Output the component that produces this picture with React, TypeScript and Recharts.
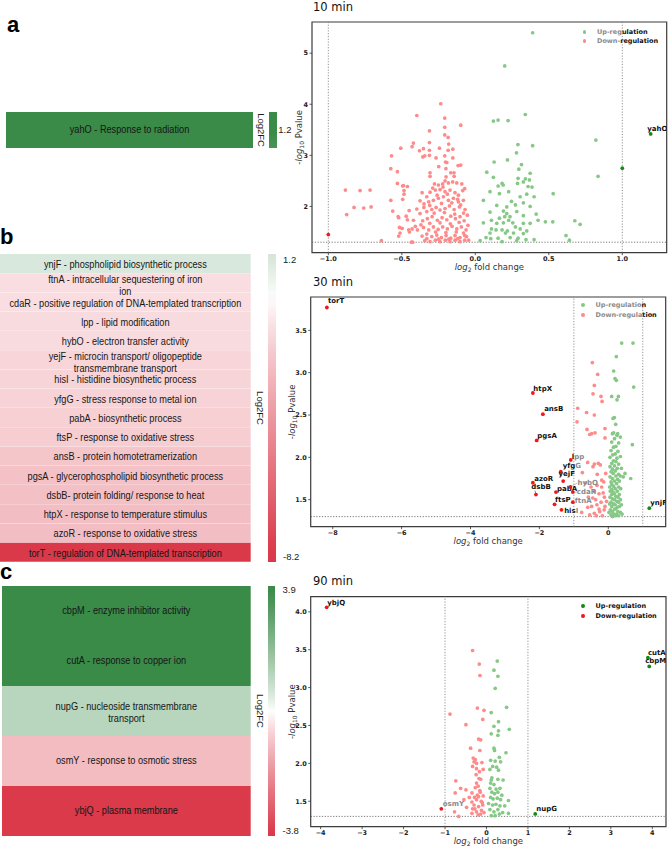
import React from 'react';
import {
  Bar,
  BarChart,
  Cell,
  LabelList,
  Legend,
  ReferenceArea,
  ReferenceLine,
  Scatter,
  ScatterChart,
  XAxis,
  YAxis,
} from 'recharts';

const NARROW = "'Liberation Sans Narrow', 'Liberation Sans', Arial, sans-serif";
const DEJAVU = "'DejaVu Sans', sans-serif";

// ---------- heatmap data (log2FC per gene) ----------
const genesA = ['yahO'];
const fcA = [1.2];
const termsA = [['yahO - Response to radiation']];
const cbTicksA = [1.2];

const genesB = ['ynjF', 'ftnA', 'cdaR', 'lpp', 'hybO', 'yejF', 'hisI', 'yfgG', 'pabA', 'ftsP', 'ansB', 'pgsA', 'dsbB', 'htpX', 'azoR', 'torT'];
const fcB = [1.19, -1.03, -1.03, -1.09, -1.1, -1.31, -1.36, -1.38, -1.52, -1.56, -1.9, -2.08, -2.1, -2.19, -2.19, -8.17];
const termsB = [
  ['ynjF - phospholipid biosynthetic process'],
  ['ftnA - intracellular sequestering of iron', 'ion'],
  ['cdaR - positive regulation of DNA-templated transcription'],
  ['lpp - lipid modification'],
  ['hybO - electron transfer activity'],
  ['yejF - microcin transport/ oligopeptide', 'transmembrane transport'],
  ['hisI - histidine biosynthetic process'],
  ['yfgG - stress response to metal ion'],
  ['pabA - biosynthetic process'],
  ['ftsP - response to oxidative stress'],
  ['ansB - protein homotetramerization'],
  ['pgsA - glycerophospholipid biosynthetic process'],
  ['dsbB- protein folding/ response to heat'],
  ['htpX - response to temperature stimulus'],
  ['azoR - response to oxidative stress'],
  ['torT - regulation of DNA-templated transcription'],
];
const cbTicksB = [1.2, -8.2];

const genesC = ['cbpM', 'cutA', 'nupG', 'osmY', 'ybjQ'];
const fcC = [3.93, 3.89, 1.18, -1.09, -3.86];
const termsC = [
  ['cbpM - enzyme inhibitor activity'],
  ['cutA - response to copper ion'],
  ['nupG - nucleoside transmembrane', 'transport'],
  ['osmY - response to osmotic stress'],
  ['ybjQ - plasma membrane'],
];
const cbTicksC = [3.9, -3.8];

// ---------- volcano data: [log2FC, -log10 p] ----------
const downA = [
  [-0.235, 4.01], [-0.398, 3.78], [-0.208, 3.73], [-0.099, 3.59], [-0.208, 3.55], [-0.312, 3.48], [-0.208, 3.4], [-0.185, 3.35],
  [-0.421, 3.24], [-0.312, 3.25], [-0.181, 3.22], [-0.507, 3.14], [-0.43, 3.17], [-0.353, 3.13], [-0.244, 3.14], [-0.153, 3.12],
  [-0.38, 3.09], [-0.312, 3.1], [-0.185, 3.1], [-0.57, 2.99], [-0.357, 2.97], [-0.344, 2.99], [-0.312, 3.0], [-0.267, 2.95],
  [-0.208, 2.99], [-0.153, 2.95], [-0.203, 2.87], [-0.194, 2.86], [-0.249, 2.78], [-0.117, 2.8], [-0.099, 2.81], [-0.575, 2.74],
  [-0.53, 2.68], [-0.308, 2.66], [-0.2, 2.74], [-0.167, 2.66], [-0.145, 2.66],
  [-0.884, 2.32], [-0.784, 2.31], [-0.716, 2.32], [-0.825, 1.98], [-0.759, 1.97], [-0.709, 1.99], [-0.875, 1.84], [-0.639, 1.33], [-1.0, 1.45],
  [-0.308, 2.59], [-0.199, 2.58], [-0.144, 2.59], [-0.206, 2.5], [-0.53, 2.45], [-0.494, 2.4], [-0.462, 2.39], [-0.278, 2.44],
  [-0.251, 2.42], [-0.222, 2.44], [-0.183, 2.46], [-0.154, 2.48], [-0.126, 2.46], [-0.092, 2.44], [-0.072, 2.35], [-0.485, 2.31],
  [-0.575, 2.12], [-0.494, 2.14], [-0.562, 1.91], [-0.521, 1.78], [-0.462, 1.74], [-0.498, 1.57], [-0.521, 1.42], [-0.448, 1.5],
  [-0.426, 1.3], [-0.421, 1.73], [-0.408, 1.61], [-0.398, 1.95], [-0.376, 2.11], [-0.362, 2.27], [-0.33, 2.19], [-0.308, 2.28],
  [-0.272, 2.32], [-0.24, 2.33], [-0.206, 2.29], [-0.172, 2.32], [-0.138, 2.27], [-0.115, 2.22], [-0.086, 2.31], [-0.349, 2.05],
  [-0.317, 2.09], [-0.285, 2.12], [-0.251, 2.16], [-0.217, 2.19], [-0.183, 2.12], [-0.149, 2.16], [-0.115, 2.09], [-0.081, 2.12],
  [-0.376, 1.86], [-0.33, 1.9], [-0.296, 1.94], [-0.267, 1.98], [-0.24, 1.93], [-0.206, 1.96], [-0.176, 2.01], [-0.144, 1.94],
  [-0.108, 1.99], [-0.07, 1.94], [-0.358, 1.72], [-0.326, 1.76], [-0.294, 1.8], [-0.258, 1.73], [-0.226, 1.78], [-0.194, 1.74],
  [-0.167, 1.81], [-0.135, 1.76], [-0.104, 1.8], [-0.076, 1.72], [-0.054, 1.83], [-0.394, 1.54], [-0.353, 1.59], [-0.317, 1.54],
  [-0.285, 1.6], [-0.253, 1.55], [-0.222, 1.6], [-0.19, 1.56], [-0.158, 1.61], [-0.126, 1.56], [-0.095, 1.6], [-0.063, 1.54],
  [-0.362, 1.42], [-0.33, 1.46], [-0.296, 1.41], [-0.262, 1.44], [-0.231, 1.39], [-0.199, 1.43], [-0.167, 1.38], [-0.138, 1.43],
  [-0.104, 1.39], [-0.072, 1.43], [-0.045, 1.34], [-0.344, 1.33], [-0.308, 1.31], [-0.272, 1.34], [-0.24, 1.31], [-0.204, 1.34],
  [-0.172, 1.31], [-0.138, 1.34], [-0.104, 1.31], [-0.072, 1.34],
  [-0.29, 2.36], [-0.22, 2.38], [-0.26, 2.22], [-0.19, 2.24], [-0.12, 2.14], [-0.31, 2.02], [-0.23, 2.06], [-0.16, 2.07],
  [-0.1, 2.03], [-0.28, 1.87], [-0.21, 1.88], [-0.14, 1.85], [-0.08, 1.87], [-0.31, 1.67], [-0.24, 1.68], [-0.17, 1.66],
  [-0.11, 1.69], [-0.27, 1.5], [-0.2, 1.49], [-0.13, 1.5], [-0.08, 1.48], [-0.05, 1.63], [-0.33, 1.37], [-0.25, 1.36],
  [-0.18, 1.36], [-0.12, 1.37], [-0.06, 1.41], [-0.43, 1.56], [-0.37, 1.64], [-0.45, 1.92], [-0.35, 1.98], [-0.47, 1.81],
  [-0.489, 2.41], [-0.485, 2.24], [-0.525, 1.8], [-0.516, 1.59], [-0.512, 1.48], [-0.453, 1.54], [-0.435, 1.3],
];
const upA = [
  [0.39, 5.4], [0.2, 4.75], [0.34, 3.8], [0.123, 3.67], [0.155, 3.69], [0.223, 3.68], [0.82, 3.3], [0.29, 3.21], [0.39, 3.19],
  [0.28, 3.05], [0.128, 2.87], [0.219, 2.91], [0.314, 2.82], [0.296, 2.73], [0.373, 2.65], [0.078, 2.67], [1.0, 2.75],
  [0.835, 2.59], [0.123, 2.57], [0.291, 2.55], [0.341, 2.54], [0.368, 2.52], [0.182, 2.45], [0.19, 2.42], [0.155, 2.4],
  [0.287, 2.45], [0.327, 2.48], [0.359, 2.39], [0.386, 2.38], [0.227, 2.29], [0.164, 2.25], [0.1, 2.29], [0.35, 2.24],
  [0.53, 2.25], [0.055, 2.12], [0.246, 2.1], [0.305, 2.19], [0.4, 2.19], [0.327, 2.07], [0.146, 2.02], [0.214, 1.99],
  [0.273, 2.03], [0.373, 2.0], [0.1, 1.89], [0.191, 1.91], [0.214, 1.86], [0.236, 1.8], [0.2, 1.8], [0.282, 1.9],
  [0.327, 1.82], [0.414, 1.85], [0.164, 1.77], [0.227, 1.73], [0.11, 1.73], [0.427, 1.73], [0.477, 1.7], [0.527, 1.7],
  [0.677, 1.72], [0.713, 1.65], [0.055, 1.68], [0.146, 1.67], [0.191, 1.68], [0.255, 1.68], [0.327, 1.67], [0.373, 1.67],
  [0.11, 1.56], [0.141, 1.54], [0.182, 1.54], [0.218, 1.52], [0.273, 1.6], [0.305, 1.56], [0.35, 1.52], [0.1, 1.48],
  [0.205, 1.48], [0.26, 1.48], [0.327, 1.47], [0.617, 1.43], [0.073, 1.39], [0.105, 1.37], [0.155, 1.38], [0.237, 1.39],
  [0.291, 1.38], [0.345, 1.35], [0.4, 1.35], [0.64, 1.34], [0.033, 1.33], [0.182, 1.31], [0.282, 1.33],
];
const sigA: [string, number, number][] = [['yahO', 1.193, 3.42]];

const downB = [
  [-0.463, 3.12], [-0.308, 2.98], [-0.405, 2.85], [-0.444, 2.75], [-0.212, 2.72], [-0.18, 2.66], [-0.889, 2.58], [-0.63, 2.53],
  [-0.405, 2.5], [-0.908, 2.42], [-0.618, 2.33], [-0.483, 2.28], [-0.386, 2.29], [-0.54, 2.27], [-0.096, 2.34], [-0.096, 2.23],
  [-0.599, 1.94], [-0.405, 1.92], [-0.289, 1.93], [-0.231, 1.91], [-0.444, 1.89], [-0.754, 1.82], [-0.076, 1.81], [-0.192, 1.73],
  [-0.134, 1.71], [-0.502, 1.65], [-0.328, 1.67], [-0.192, 1.65], [-0.27, 1.57], [-0.405, 1.6], [-0.579, 1.53], [-0.115, 1.53],
  [-0.366, 1.5], [-0.211, 1.47], [-0.483, 1.42], [-0.599, 1.41], [-0.096, 1.42], [-0.27, 1.39], [-0.405, 1.34], [-0.347, 1.31],
  [-0.54, 1.32], [-0.173, 1.31], [-0.773, 1.35], [-0.32, 1.8], [-0.15, 1.58], [-0.05, 1.48], [-0.33, 1.44], [-0.66, 1.7],
  [-0.25, 1.36], [-0.45, 1.52], [-0.12, 1.38],
];
const upB = [
  [0.388, 3.35], [0.717, 3.35], [0.233, 3.19], [0.156, 3.02], [0.195, 2.93], [0.233, 2.91], [0.737, 2.83], [0.098, 2.72],
  [0.292, 2.72], [0.253, 2.68], [0.175, 2.47], [0.137, 2.46], [0.214, 2.39], [0.156, 2.29], [0.272, 2.28], [0.35, 2.24],
  [0.698, 2.15], [0.485, 1.81], [0.65, 1.75], [0.435, 1.77],
  [0.12, 2.28], [0.25, 2.26], [0.18, 2.22], [0.1, 2.18], [0.3, 2.17], [0.15, 2.12], [0.22, 2.13], [0.08, 2.08], [0.28, 2.07],
  [0.2, 2.04], [0.13, 2.03], [0.05, 2.0], [0.25, 1.99], [0.35, 2.01], [0.15, 1.96], [0.22, 1.95], [0.1, 1.93], [0.3, 1.92],
  [0.18, 1.9], [0.05, 1.89], [0.26, 1.87], [0.12, 1.86], [0.38, 1.87], [0.2, 1.84], [0.08, 1.83], [0.14, 1.81], [0.3, 1.8],
  [0.22, 1.78], [0.05, 1.77], [0.35, 1.78], [0.12, 1.75], [0.27, 1.74], [0.18, 1.72], [0.08, 1.71], [0.32, 1.72], [0.24, 1.69],
  [0.1, 1.68], [0.15, 1.66], [0.3, 1.65], [0.04, 1.65], [0.2, 1.63], [0.1, 1.62], [0.36, 1.63], [0.26, 1.6], [0.14, 1.59],
  [0.06, 1.6], [0.18, 1.57], [0.32, 1.56], [0.1, 1.56], [0.22, 1.54], [0.05, 1.53], [0.28, 1.53], [0.12, 1.51], [0.35, 1.5],
  [0.18, 1.5], [0.25, 1.48], [0.08, 1.47], [0.3, 1.47], [0.15, 1.45], [0.2, 1.44], [0.04, 1.45], [0.38, 1.44], [0.1, 1.42],
  [0.26, 1.41], [0.32, 1.42], [0.18, 1.39], [0.06, 1.38], [0.22, 1.39], [0.12, 1.36], [0.28, 1.36], [0.35, 1.35], [0.02, 1.35],
  [0.16, 1.33], [0.24, 1.33], [0.08, 1.32], [0.4, 1.33], [0.2, 1.31], [0.12, 1.3], [0.3, 1.31],
];
const sigB: [string, number, number][] = [
  ['torT', -8.17, 3.77], ['htpX', -2.19, 2.76], ['ansB', -1.9, 2.51], ['pgsA', -2.08, 2.2], ['lpp', -1.09, 1.97],
  ['yfgG', -1.38, 1.83], ['yejF', -1.31, 1.72], ['azoR', -2.19, 1.7], ['dsbB', -2.1, 1.56], ['pabA', -1.52, 1.59],
  ['ftsP', -1.56, 1.445], ['hisI', -1.36, 1.38], ['hybO', -1.1, 1.65], ['cdaR', -1.03, 1.59], ['ftnA', -1.03, 1.47],
  ['ynjF', 1.19, 1.4],
];

const downC = [
  [-0.335, 3.49], [-0.174, 3.31], [-0.158, 3.16], [-0.22, 2.73], [-0.06, 2.7], [-0.88, 2.65], [-0.09, 2.58], [-0.496, 2.51],
  [-0.19, 2.32], [-0.14, 2.31], [-0.383, 2.2], [-0.16, 2.17], [-0.32, 2.07], [-0.27, 2.05], [-0.3, 2.02], [-0.24, 2.0],
  [-0.11, 2.01], [-0.335, 1.96], [-0.24, 1.93], [-0.17, 1.89], [-0.08, 1.92], [-0.74, 1.77], [-0.14, 1.79], [-0.624, 1.67],
  [-0.24, 1.74], [-0.27, 1.68], [-0.496, 1.65], [-0.755, 1.61], [-0.35, 1.61], [-0.16, 1.64], [-0.415, 1.55], [-0.287, 1.55],
  [-0.19, 1.56], [-0.08, 1.57], [-0.544, 1.52], [-0.35, 1.49], [-0.24, 1.52], [-0.126, 1.5], [-0.48, 1.42], [-0.3, 1.45],
  [-0.19, 1.43], [-0.09, 1.45], [-0.77, 1.36], [-0.35, 1.34], [-0.24, 1.36], [-0.14, 1.33], [-0.06, 1.35], [-0.335, 1.4],
  [-0.67, 1.3], [-0.2, 1.7], [-0.15, 1.62], [-0.22, 1.58], [-0.1, 1.48], [-0.28, 1.4], [-0.2, 1.32], [-0.12, 1.38],
  [-0.25, 1.85], [-0.18, 1.8],
];
const upC = [
  [0.26, 3.35], [0.18, 3.23], [0.276, 3.15], [0.21, 2.99], [0.485, 2.74], [0.115, 2.67], [0.29, 2.55], [0.18, 2.49],
  [0.55, 2.45], [0.29, 2.43], [0.115, 2.39], [0.275, 2.37], [0.18, 2.2], [0.195, 2.17], [0.47, 2.14], [0.1, 2.04],
  [0.31, 2.08], [0.21, 2.03], [0.34, 2.02], [0.15, 1.96], [0.245, 1.95], [0.083, 1.92], [0.29, 1.91], [0.13, 1.81],
  [0.115, 1.78], [0.275, 1.79], [0.4, 1.78], [0.1, 1.74], [0.18, 1.72], [0.083, 1.67], [0.23, 1.66], [0.325, 1.67],
  [0.13, 1.62], [0.195, 1.6], [0.275, 1.62], [0.37, 1.58], [0.1, 1.55], [0.16, 1.53], [0.26, 1.54], [0.34, 1.52],
  [0.53, 1.51], [0.05, 1.47], [0.147, 1.45], [0.228, 1.46], [0.325, 1.44], [0.44, 1.44], [0.083, 1.39], [0.18, 1.36],
  [0.275, 1.39], [0.39, 1.35], [0.53, 1.34], [0.115, 1.31], [0.21, 1.31], [0.31, 1.33],
];
const sigC: [string, number, number][] = [
  ['ybjQ', -3.855, 4.06], ['cutA', 3.894, 3.395], ['cbpM', 3.926, 3.28], ['nupG', 1.176, 1.333], ['osmY', -1.09, 1.4],
];

const legendLabels = ['Up-regulation', 'Down-regulation'];
const P_CUT = 1.3;
const FC_CUT = 1;

// ---------- colours ----------
const GREEN = [58, 138, 72];
const RED = [218, 56, 72];
const FULL_G = '#138a13';
const FULL_R = '#f01818';
const LIGHT_G = '#86c886';
const LIGHT_R = '#ff8a8a';
const GREY_TXT = '#8a8a8a';

function fcColor(v: number, maxAbs: number) {
  const t = Math.pow(Math.min(1, Math.abs(v) / maxAbs), 0.85);
  const c = v >= 0 ? GREEN : RED;
  const m = (k: number) => Math.round(255 + (c[k] - 255) * t);
  return `rgb(${m(0)},${m(1)},${m(2)})`;
}

function dotColor(x: number) {
  if (x >= 0) return x >= FC_CUT ? FULL_G : LIGHT_G;
  return x <= -FC_CUT ? FULL_R : LIGHT_R;
}

// ---------- heatmap ----------
function Heatmap({ genes, fc, terms, maxAbs, left, top, width, height, wrapShift, lineShift }: any) {
  const rows = genes.map((g: string, i: number) => ({ gene: g, fc: fc[i], span: 1 }));
  const lines: Record<string, string[]> = {};
  genes.forEach((g: string, i: number) => (lines[g] = terms[i]));
  const LH = 11.5;

  const renderText = (p: any) => {
    const vb = p.viewBox ?? p;
    const cx = vb.x + vb.width / 2;
    const cy = vb.y + vb.height / 2;
    const ls = lines[p.value] ?? [];
    const first = ls.length > 1 ? cy - ((ls.length - 1) * LH) / 2 + wrapShift : cy + lineShift;
    // text is squeezed a little horizontally to imitate the narrow face of the original
    return (
      <text
        transform={`translate(${cx},0) scale(0.92,1)`}
        textAnchor="middle"
        fontSize={10}
        fontFamily={NARROW}
        fill="#161616"
      >
        {ls.map((s, i) => (
          <tspan key={i} x={0} y={first + i * LH + 3.5}>
            {s}
          </tspan>
        ))}
      </text>
    );
  };

  return (
    <div style={{ position: 'absolute', left, top }}>
      <BarChart
        layout="vertical"
        width={width}
        height={height}
        data={rows}
        margin={{ top: 0, right: 0, bottom: 0, left: 0 }}
        barCategoryGap={0}
        barGap={0}
      >
        <XAxis type="number" domain={[0, 1]} hide />
        <YAxis type="category" dataKey="gene" hide />
        <Bar dataKey="span" isAnimationActive={false}>
          {rows.map((r: any) => (
            <Cell key={r.gene} fill={fcColor(r.fc, maxAbs)} />
          ))}
          <LabelList dataKey="gene" content={renderText} />
        </Bar>
      </BarChart>
    </div>
  );
}

function CbTitle({ cy }: any) {
  return (
    <text
      transform={`translate(8,${cy}) rotate(90)`}
      y={3.3}
      textAnchor="middle"
      fontSize={9.5}
      fontFamily={NARROW}
      fill="#1b1b1b"
    >
      Log2FC
    </text>
  );
}

function ColorBar({ id, domain, ticks, maxAbs, left, top, width, height, tickGap }: any) {
  const [lo, hi] = domain;
  const stops = Array.from({ length: 25 }, (_, i) => {
    const v = hi - ((hi - lo) * i) / 24;
    return { off: i / 24, color: fcColor(v, maxAbs) };
  });
  return (
    <div style={{ position: 'absolute', left: left - 16, top: top - 8 }}>
      <BarChart
        width={16 + width + 28}
        height={height + 16}
        data={[{ k: 'cb', span: [lo, hi] }]}
        margin={{ top: 8, right: 0, bottom: 8, left: 16 }}
        barCategoryGap={0}
      >
        <defs>
          <linearGradient id={id} x1="0" y1="0" x2="0" y2="1">
            {stops.map((s) => (
              <stop key={s.off} offset={s.off} stopColor={s.color} />
            ))}
          </linearGradient>
        </defs>
        <XAxis dataKey="k" hide />
        <YAxis
          orientation="right"
          type="number"
          domain={[lo, hi]}
          ticks={ticks}
          interval={0}
          allowDataOverflow
          width={28}
          axisLine={false}
          tickLine={false}
          tickSize={0}
          tickMargin={tickGap}
          tick={{ fontSize: 9.5, fontFamily: NARROW, fill: '#1b1b1b' }}
          tickFormatter={(v: number) => v.toFixed(1)}
          label={<CbTitle cy={8 + height / 2} />}
        />
        <Bar dataKey="span" fill={`url(#${id})`} isAnimationActive={false} />
      </BarChart>
    </div>
  );
}

// ---------- volcano ----------
function XTitle({ px, py }: any) {
  return (
    <text x={px} y={py} textAnchor="middle" fontSize={8.5} fontFamily={DEJAVU} fill="#333">
      <tspan fontStyle="italic">log</tspan>
      <tspan fontSize={6} dy={2}>2</tspan>
      <tspan dy={-2}> fold change</tspan>
    </text>
  );
}

function YTitle({ px, py }: any) {
  return (
    <text
      transform={`translate(${px},${py}) rotate(-90)`}
      y={3}
      textAnchor="middle"
      fontSize={8.5}
      fontFamily={DEJAVU}
      fill="#333"
    >
      -<tspan fontStyle="italic">log</tspan>
      <tspan fontSize={6} dy={2}>10</tspan>
      <tspan dy={-2}> Pvalue</tspan>
    </text>
  );
}

const renderDot = (p: any) => <circle cx={p.cx} cy={p.cy} r={1.85} fill={dotColor(p.payload.x)} />;

const makeSigShape = (styles: Record<string, any>) => (p: any) => {
  const { gene, x } = p.payload;
  const s = styles[gene] ?? { dx: 1, dy: -2 };
  const split = s.grey ?? gene.length;
  return (
    <g>
      {s.line && (
        <line
          x1={p.cx}
          y1={p.cy}
          x2={p.cx + s.line[0]}
          y2={p.cy + s.line[1]}
          stroke={split === 0 ? '#9a9a9a' : '#333'}
          strokeWidth={0.6}
        />
      )}
      <circle cx={p.cx} cy={p.cy} r={1.9} fill={dotColor(x)} />
      <text x={p.cx + s.dx} y={p.cy + s.dy} fontSize={7} fontWeight="bold" fontFamily={DEJAVU}>
        <tspan fill="#111">{gene.slice(0, split)}</tspan>
        <tspan fill={GREY_TXT}>{gene.slice(split)}</tspan>
      </text>
    </g>
  );
};

const toPts = (arr: number[][]) => arr.map(([x, y]) => ({ x, y }));
const toSig = (arr: [string, number, number][]) => arr.map(([gene, x, y]) => ({ gene, x, y }));

const fmt = (digits: number) => (v: number) => (v < 0 ? '\u2212' : '') + Math.abs(v).toFixed(digits);

function Volcano({ cfg, up, down, sig, labelStyles }: any) {
  const W = 408;
  const plotLeft = cfg.yAxisWidth;
  const plotRight = W - cfg.marginRight;
  const plotBottom = cfg.height - 20;
  const plotMidY = (cfg.marginTop + plotBottom) / 2;
  const tickStyle = { fontSize: 6.5, fontWeight: 'bold', fontFamily: DEJAVU, fill: '#222' };
  const markers = cfg.lightLegend ? [LIGHT_G, LIGHT_R] : [FULL_G, FULL_R];

  const legend = () => (
    <div style={{ fontFamily: DEJAVU, fontWeight: 'bold', fontSize: 6.5 }}>
      {legendLabels.map((t, i) => (
        <div key={t} style={{ display: 'flex', alignItems: 'center', height: cfg.legendRow, whiteSpace: 'nowrap' }}>
          <span
            style={{ width: 3.8, height: 3.8, borderRadius: '50%', background: markers[i], marginRight: 10.5 }}
          />
          <span style={{ color: GREY_TXT }}>{t.slice(0, cfg.legendGrey[i])}</span>
          <span style={{ color: '#111' }}>{t.slice(cfg.legendGrey[i])}</span>
        </div>
      ))}
    </div>
  );

  const [x0, x1] = cfg.xDomain;
  const [y0, y1] = cfg.yDomain;

  return (
    <div style={{ position: 'absolute', left: 260, top: cfg.top }}>
      <ScatterChart
        width={W}
        height={cfg.height}
        margin={{ top: cfg.marginTop, right: cfg.marginRight, bottom: 0, left: 0 }}
      >
        <XAxis
          type="number"
          dataKey="x"
          domain={cfg.xDomain}
          ticks={cfg.xTicks}
          interval={0}
          allowDataOverflow
          height={20}
          axisLine={false}
          tickLine={{ stroke: '#333', strokeWidth: 0.8 }}
          tickSize={2.5}
          tickMargin={1.5}
          tick={tickStyle}
          tickFormatter={fmt(cfg.xDigits)}
          label={<XTitle px={(plotLeft + plotRight) / 2} py={plotBottom + 17.5} />}
        />
        <YAxis
          type="number"
          dataKey="y"
          domain={cfg.yDomain}
          ticks={cfg.yTicks}
          interval={0}
          allowDataOverflow
          width={cfg.yAxisWidth}
          axisLine={false}
          tickLine={{ stroke: '#333', strokeWidth: 0.8 }}
          tickSize={2.5}
          tickMargin={1.5}
          tick={tickStyle}
          tickFormatter={fmt(cfg.yDigits)}
          label={<YTitle px={cfg.yLabelX} py={plotMidY} />}
        />
        <ReferenceLine x={-FC_CUT} stroke="#777" strokeWidth={0.8} strokeDasharray="1.2 1.6" />
        <ReferenceLine x={FC_CUT} stroke="#777" strokeWidth={0.8} strokeDasharray="1.2 1.6" />
        <ReferenceLine y={P_CUT} stroke="#555" strokeWidth={0.8} strokeDasharray="1.2 1.6" />
        <Scatter name="Down-regulation" data={toPts(down)} shape={renderDot} isAnimationActive={false} />
        <Scatter name="Up-regulation" data={toPts(up)} shape={renderDot} isAnimationActive={false} />
        <Scatter data={toSig(sig)} shape={makeSigShape(labelStyles)} isAnimationActive={false} />
        <ReferenceArea
          x1={x0}
          x2={x1}
          y1={y0}
          y2={y1}
          fill="none"
          stroke="#3c3c3c"
          strokeWidth={1.2}
          ifOverflow="visible"
        />
        <Legend
          layout="vertical"
          align="center"
          verticalAlign="middle"
          content={legend}
          wrapperStyle={{ left: cfg.legendLeft, top: cfg.legendTop, width: 'auto', height: 'auto' }}
        />
      </ScatterChart>
    </div>
  );
}

const cfgA = {
  top: 0, height: 272.7, marginTop: 22, marginRight: 1.3, yAxisWidth: 52, yLabelX: 39,
  xDomain: [-1.111, 1.302], yDomain: [1.095, 5.61], xTicks: [-1, -0.5, 0, 0.5, 1], yTicks: [2, 3, 4, 5],
  xDigits: 1, yDigits: 0, legendLeft: 322.7, legendTop: 26.9, legendRow: 9.6, legendGrey: [6, 5], lightLegend: true,
};
const cfgB = {
  top: 280, height: 266.7, marginTop: 17, marginRight: 2.3, yAxisWidth: 50.7, yLabelX: 32,
  xDomain: [-8.64, 1.666], yDomain: [1.181, 3.894], xTicks: [-8, -6, -4, -2, 0], yTicks: [1.5, 2, 2.5, 3, 3.5],
  xDigits: 0, yDigits: 1, legendLeft: 321.3, legendTop: 20.3, legendRow: 10, legendGrey: [12, 11], lightLegend: true,
};
const cfgC = {
  top: 580, height: 266.7, marginTop: 16.7, marginRight: 2, yAxisWidth: 50.7, yLabelX: 32,
  xDomain: [-4.24, 4.33], yDomain: [1.164, 4.2], xTicks: [-4, -3, -2, -1, 0, 1, 2, 3, 4], yTicks: [1.5, 2, 2.5, 3, 3.5, 4],
  xDigits: 0, yDigits: 1, legendLeft: 321.3, legendTop: 20.7, legendRow: 10, legendGrey: [0, 0], lightLegend: false,
};

const labelsA = { yahO: { dx: -3.4, dy: -2.7 } };
const labelsB = {
  torT: { dx: 1, dy: -4 },
  htpX: { dx: 0.5, dy: -2.3 },
  ansB: { dx: 1.3, dy: -3.3 },
  pgsA: { dx: 0.6, dy: -2.7 },
  lpp: { dx: 1, dy: -0.7, grey: 1 },
  yfgG: { dx: 2, dy: -4, grey: 3 },
  yejF: { dx: -4.6, dy: -4.7 },
  azoR: { dx: 1.3, dy: -2 },
  dsbB: { dx: -4.7, dy: -5.6, line: [-1, -4] },
  pabA: { dx: 1, dy: -1 },
  ftsP: { dx: 0.5, dy: -2.6 },
  hisI: { dx: 2.7, dy: 2.7, grey: 3 },
  hybO: { dx: 7, dy: -2, grey: 0, line: [7, -4] },
  cdaR: { dx: 4, dy: 2.3, grey: 0, line: [4, 0] },
  ftnA: { dx: 2, dy: 0.5, grey: 0 },
  ynjF: { dx: 1, dy: -3 },
};
const labelsC = {
  ybjQ: { dx: 0.6, dy: -2.6 },
  cutA: { dx: 0, dy: -2.3 },
  cbpM: { dx: -4, dy: -3 },
  nupG: { dx: 1, dy: -3 },
  osmY: { dx: 1.4, dy: -2.7, grey: 0 },
};

export default function App() {
  const letter = { fontSize: 22, fontWeight: 'bold', fontFamily: NARROW, fill: '#000' } as const;
  const title = { fontSize: 11.5, fontFamily: DEJAVU, fill: '#111' } as const;
  return (
    <div style={{ position: 'absolute', left: 0, top: 0, width: 668, height: 847, background: '#fff', overflow: 'hidden' }}>
      <svg width={668} height={847} style={{ position: 'absolute', left: 0, top: 0 }}>
        <text x={7} y={31.7} {...letter}>a</text>
        <text x={0} y={243.5} {...letter}>b</text>
        <text x={0} y={578.5} {...letter}>c</text>
        <text x={313} y={10.7} {...title}>10 min</text>
        <text x={313} y={285.7} {...title}>30 min</text>
        <text x={313} y={585} {...title}>90 min</text>
      </svg>

      <Heatmap genes={genesA} fc={fcA} terms={termsA} maxAbs={1.2} left={6} top={111.7} width={247} height={36} wrapShift={0} lineShift={0} />
      <ColorBar id="cbA" domain={[1.1, 1.3]} ticks={cbTicksA} maxAbs={1.2} left={269} top={111.7} width={7.7} height={36} tickGap={1.6} />

      <Heatmap genes={genesB} fc={fcB} terms={termsB} maxAbs={8.2} left={0} top={254} width={250.7} height={308} wrapShift={3} lineShift={1} />
      <ColorBar id="cbB" domain={[-8.38, 1.38]} ticks={cbTicksB} maxAbs={8.2} left={268} top={254} width={8} height={308} tickGap={7} />

      <Heatmap genes={genesC} fc={fcC} terms={termsC} maxAbs={3.9} left={2} top={586} width={248.7} height={250} wrapShift={1.5} lineShift={0} />
      <ColorBar id="cbC" domain={[-3.97, 4.01]} ticks={cbTicksC} maxAbs={3.9} left={268} top={586} width={6.5} height={250} tickGap={8} />

      <Volcano cfg={cfgA} up={upA} down={downA} sig={sigA} labelStyles={labelsA} />
      <Volcano cfg={cfgB} up={upB} down={downB} sig={sigB} labelStyles={labelsB} />
      <Volcano cfg={cfgC} up={upC} down={downC} sig={sigC} labelStyles={labelsC} />
    </div>
  );
}
